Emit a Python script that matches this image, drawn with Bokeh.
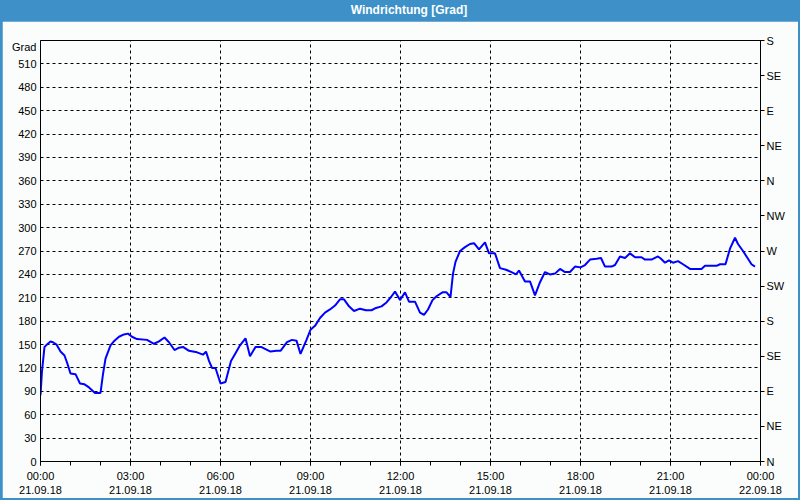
import pandas as pd
from bokeh.plotting import figure
from bokeh.models import (LinearAxis, Range1d, FixedTicker, DatetimeTickFormatter,
                          Div, ColumnDataSource)
from bokeh.layouts import column
from bokeh.embed import file_html
from bokeh.resources import INLINE

# ---------------- data ----------------
title_text = "Windrichtung [Grad]"
start_day = "2018-09-21"
y_unit = "Grad"

minutes = [0, 3, 8, 13, 20, 25, 32, 40, 48, 53, 60, 70, 79, 88, 97, 109, 120, 125, 130, 140,
           148, 157, 167, 175, 183, 193, 213, 227, 237, 248, 257, 268, 277, 285, 297, 313, 325,
           331, 337, 343, 350, 360, 370, 381, 390, 399, 410, 419, 430, 441, 460, 472, 480, 493,
           503, 512, 520,
           532, 540, 549, 559, 569, 579, 589, 599, 607, 617, 627, 639, 651, 662, 671, 682, 692,
           701, 709, 719, 729, 737, 749, 759, 767, 775, 784, 792, 804, 812, 820, 825, 830, 839,
           849, 859, 867, 877, 889, 897, 909, 919, 931, 942, 951,
           957, 969, 979, 989, 999, 1009, 1019, 1029, 1039, 1049, 1059, 1069, 1080, 1089, 1099,
           1112, 1121, 1129, 1142, 1149, 1159, 1169, 1179, 1189, 1202, 1209, 1222, 1235, 1241,
           1249, 1257, 1265, 1275, 1285, 1299, 1312, 1322, 1329, 1342, 1352, 1359, 1370, 1379,
           1389, 1395, 1405, 1415, 1422, 1429]
direction = [85, 116, 147, 150, 154, 153, 150, 141, 136, 127, 113, 112, 100, 99, 95, 88, 88, 112,
             132, 149, 155, 160, 163, 164, 160, 157, 156, 151, 154, 159, 153, 143, 146, 147, 142,
             140, 137, 141, 129, 120, 120, 100, 102, 129, 139, 149, 158, 135, 147, 147, 141, 142,
             142, 153, 156, 155, 138,
             156, 169, 174, 184, 191, 195, 200, 208, 208, 199, 193, 196, 194, 194, 197, 199, 204,
             211, 218, 207, 217, 205, 205, 191, 188, 195, 207, 212, 217, 217, 211, 241, 256, 270,
             275, 279, 280, 272, 281, 267, 267, 248, 246, 243, 240,
             245, 231, 231, 213, 230, 243, 240, 241, 247, 243, 243, 250, 249, 252, 259,
             260, 261, 250, 250, 252, 263, 261, 267, 262, 262, 259, 259, 263, 260,
             255, 258, 255, 257, 253, 247, 247, 247, 251, 251, 251, 253, 253, 273,
             287, 279, 270, 260, 253, 250]

deg_ticks = list(range(0, 511, 30))
grid_deg = list(range(30, 511, 30))
compass_values = list(range(0, 541, 45))
compass_labels = ["N", "NE", "E", "SE", "S", "SW", "W", "NW", "N", "NE", "E", "SE", "S"]
major_hours = list(range(0, 25, 3))
minor_hours = list(range(0, 25, 1))

# ---------------- style ----------------
FONT = "Liberation Sans"
BLUE = "#3d91c8"
BG = "#fafdfb"

base = pd.Timestamp(start_day)
times = [base + pd.Timedelta(minutes=m) for m in minutes]
src = ColumnDataSource(dict(t=times, v=direction))

ms0 = base.value // 10**6
HOUR = 3600000
major = [ms0 + h * HOUR for h in major_hours]
minor = [ms0 + h * HOUR for h in minor_hours]

p = figure(width=796, height=477, x_axis_type="datetime", output_backend="svg",
           toolbar_location=None,
           x_range=Range1d(ms0, ms0 + 24 * HOUR), y_range=Range1d(0, 540),
           min_border_left=38, min_border_right=38, min_border_top=19, min_border_bottom=37,
           background_fill_color=BG, border_fill_color=BG,
           outline_line_color="black", outline_line_width=1,
           margin=(0, 2, 2, 2))

p.line("t", "v", source=src, line_color="#0000ff", line_width=2)

# bottom axis
xa = p.xaxis[0]
xa.ticker = FixedTicker(ticks=major, minor_ticks=minor)
fmt = "%H:%M\n%d.%m.%y"
xa.formatter = DatetimeTickFormatter(minutes=fmt, hourmin=fmt, hours=fmt, days=fmt,
                                     strip_leading_zeros=False)
xa.major_tick_in = 0
xa.major_tick_out = 4
xa.minor_tick_in = 0
xa.minor_tick_out = 4
xa.major_label_standoff = 4
xa.axis_line_color = "black"
xa.major_tick_line_color = "black"
xa.minor_tick_line_color = "black"
xa.major_label_text_font = FONT
xa.major_label_text_font_size = "11px"
xa.major_label_text_color = "black"

# left axis
ya = p.yaxis[0]
ya.ticker = FixedTicker(ticks=deg_ticks + [532])
ya.major_label_overrides = {532: y_unit}
ya.major_tick_in = 0
ya.major_tick_out = 0
ya.minor_tick_line_color = None
ya.major_label_standoff = 4
ya.axis_line_color = "black"
ya.major_label_text_font = FONT
ya.major_label_text_font_size = "11px"
ya.major_label_text_color = "black"

# right axis (compass)
ra = LinearAxis(ticker=FixedTicker(ticks=compass_values),
                major_label_overrides={v: l for v, l in zip(compass_values, compass_labels)})
ra.major_tick_in = 0
ra.major_tick_out = 4
ra.minor_tick_line_color = None
ra.major_label_standoff = 2
ra.axis_line_color = "black"
ra.major_label_text_font = FONT
ra.major_label_text_font_size = "11px"
ra.major_label_text_color = "black"
p.add_layout(ra, "right")

# grid
p.xgrid.ticker = FixedTicker(ticks=major[1:-1])
p.ygrid.ticker = FixedTicker(ticks=grid_deg)
for g in (p.xgrid[0], p.ygrid[0]):
    g.grid_line_color = "black"
    g.grid_line_dash = "3 3"
    g.grid_line_width = 1

title = Div(text=title_text, width=800, height=21, margin=(0, 0, 0, 0),
            styles={"background-color": BLUE, "color": "white", "text-align": "center",
                    "font-family": FONT, "font-weight": "bold", "font-size": "12px",
                    "line-height": "21px", "padding-left": "18px", "box-sizing": "border-box"})

layout = column(title, p, styles={"background-color": BLUE}, spacing=0, margin=(0, 0, 0, 0))

open("out.html", "w").write(file_html(layout, INLINE))
